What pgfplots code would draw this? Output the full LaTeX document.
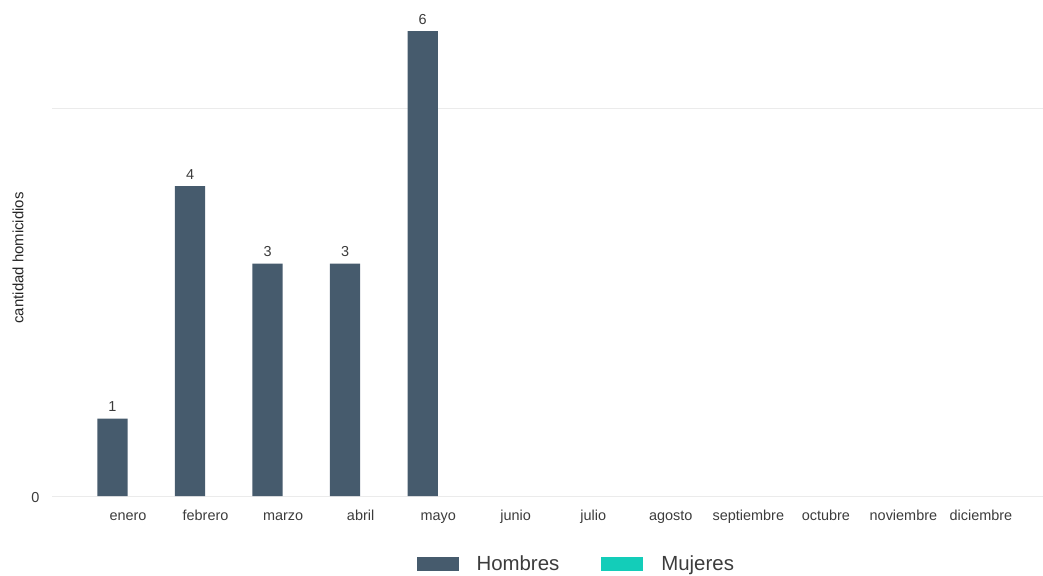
\documentclass[border=0pt]{standalone}
\usepackage{pgfplots}
\pgfplotsset{compat=1.18}
\usepackage{fontspec}
\setmainfont{Liberation Sans}
\definecolor{hom}{RGB}{70,91,109}
\definecolor{muj}{RGB}{19,205,185}
\definecolor{gridc}{RGB}{235,235,235}
\definecolor{txt}{RGB}{60,60,60}
\begin{document}
\begin{tikzpicture}
\begin{axis}[
  at={(0,0)}, anchor=south west,
  scale only axis, width=991bp, height=496bp,
  xmin=-0.98, xmax=11.8, ymin=0, ymax=6.4,
  axis line style={draw=none},
  ybar,
  bar width=0.39,
  xtick={0,...,11},
  xticklabels={enero,febrero,marzo,abril,mayo,junio,julio,agosto,septiembre,octubre,noviembre,diciembre},
  ytick={0,5}, yticklabels={0,{}},
  major tick length=0pt,
  ymajorgrids, grid style={gridc, line width=1pt},
  /pgf/number format/assume math mode=true,
  xticklabel style={font=\fontsize{14.5}{17}\selectfont, text=txt, anchor=base, yshift=-24bp},
  yticklabel style={font=\fontsize{14.5}{17}\selectfont, text=txt, xshift=-9bp, yshift=-2bp},
  ylabel={cantidad homicidios},
  ylabel style={at={(axis description cs:-0.0343,0.48)}, anchor=center, font=\fontsize{15}{18}\selectfont, text=black!85},
  nodes near coords,
  every node near coord/.append style={font=\fontsize{14.5}{17}\selectfont, text=txt, yshift=3bp},
  unbounded coords=discard,
  y filter/.expression={y==0 ? nan : y},
  legend columns=2,
  legend style={draw=none, fill=none, at={(0.529,-0.1365)}, anchor=center,
    font=\fontsize{20.5}{23}\selectfont, text=txt,
    /tikz/every odd column/.append style={column sep=16bp},
    /tikz/every even column/.append style={column sep=40bp}},
  legend image code/.code={\fill[#1] (0bp,-7bp) rectangle (42bp,7bp);},
]
\addplot[fill=hom, draw=none, bar shift=-0.2] coordinates {
(0,1) (1,4) (2,3) (3,3) (4,6) (5,0) (6,0) (7,0) (8,0) (9,0) (10,0) (11,0)};
\addlegendentry{Hombres}
\addplot[fill=muj, draw=none, bar shift=0.2, forget plot] coordinates {
(0,0) (1,0) (2,0) (3,0) (4,0) (5,0) (6,0) (7,0) (8,0) (9,0) (10,0) (11,0)};
\addlegendimage{fill=muj, draw=none}
\addlegendentry{Mujeres}
\end{axis}
\pgfresetboundingbox
\path (-52bp,-80bp) rectangle (991bp,496bp);
\end{tikzpicture}
\end{document}
